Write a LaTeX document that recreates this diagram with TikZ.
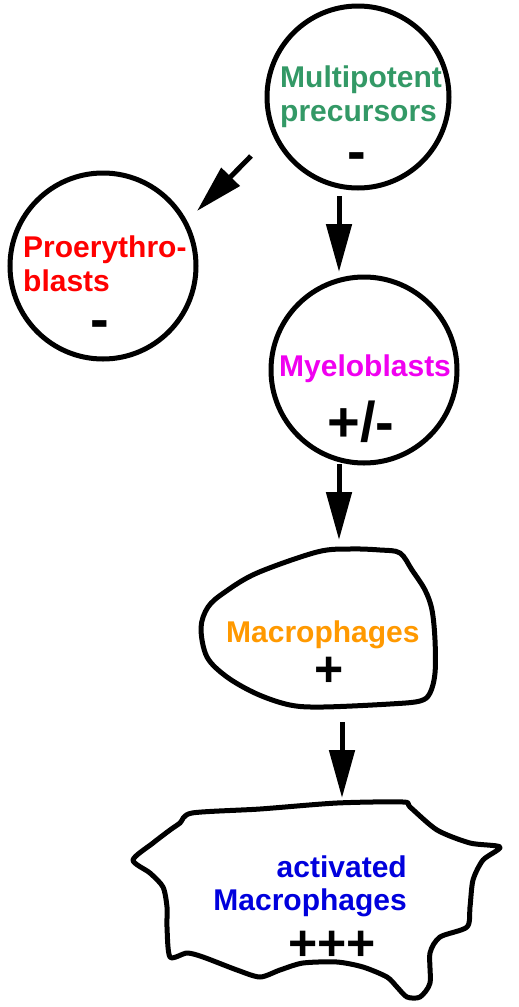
\documentclass[tikz,border=0pt]{standalone}
\usepackage{fontspec}
\setmainfont{Liberation Sans}
\usetikzlibrary{arrows.meta}
\definecolor{cgreen}{RGB}{51,153,102}
\definecolor{cred}{RGB}{255,0,0}
\definecolor{cmag}{RGB}{240,0,240}
\definecolor{corange}{RGB}{255,153,0}
\definecolor{cblue}{RGB}{0,0,221}
\tikzset{
  cell/.style={circle, draw=black, line width=5pt, inner sep=0pt},
  blob/.style={draw=black, line width=5pt, line join=round},
  lbl/.style={font=\bfseries\fontsize{30}{34}\selectfont, inner sep=0pt, anchor=base west},
  lblr/.style={lbl, anchor=base east},
  sym/.style={font=\bfseries\fontsize{56}{60}\selectfont, inner sep=0pt},
  plussym/.style={font=\bfseries\fontsize{50}{54}\selectfont, inner sep=0pt},
  flow/.style={line width=5pt, -{Triangle[length=48pt,width=25pt]}},
}
\begin{document}
\begin{tikzpicture}[x=1pt,y=-1pt]
\useasboundingbox[fill=white] (0,0) rectangle (519,1007);
% cells
\node[cell, minimum size=182pt] (mp) at (358,97) {};
\node[cell, minimum size=186pt] (pe) at (103,266) {};
\node[cell, minimum size=186pt] (my) at (364,370) {};
% macrophage outline
\draw[blob] plot[smooth cycle, tension=0.55] coordinates {
  (257,573) (317,552) (350,549) (380,550) (400,553) (412,570) (425,590)
  (432,610) (435,640) (435,673) (430,693) (420,701) (390,704) (323,707)
  (290,705) (257,694) (227,677) (207,657) (201,628) (208,607) (225,592)};
% activated macrophage outline
\draw[blob] plot[smooth cycle, tension=0.45] coordinates {
  (192,813) (260,809) (337,803) (403,802) (410,807) (437,830) (470,843)
  (500,847) (483,860) (473,880) (470,907) (467,927) (440,937) (430,953)
  (430,983) (420,997) (407,997) (397,987) (387,977) (363,967) (337,962)
  (303,963) (280,970) (260,977) (237,970) (203,957) (187,953) (170,957)
  (167,927) (167,907) (163,887) (150,873) (133,860) (153,843) (170,830)
  (180,823)};
% labels
\node[lbl, text=cgreen] (mp1) at (280,87) {Multipotent};
\node[lbl, text=cgreen] (mp2) at (280,121) {precursors};
\node[sym] (mps) at (357,162) {-};
\node[lbl, text=cred] (pe1) at (23,257) {Proerythro-};
\node[lbl, text=cred] (pe2) at (23,291) {blasts};
\node[sym] (pes) at (100,330) {-};
\node[lbl, text=cmag] (my1) at (279,376) {Myeloblasts};
\node[sym] (mys) at (361,422) {+/-};
\node[lbl, text=corange] (mc1) at (226,642) {Macrophages};
\node[plussym] (mcs) at (329,672) {+};
\node[lblr, text=cblue] (ac1) at (407,877) {activated};
\node[lblr, text=cblue] (ac2) at (407,910) {Macrophages};
\node[plussym] (acs) at (332,946) {+++};
% arrows
\coordinate (a1s) at (251,156); \coordinate (a1e) at (197,211);
\coordinate (a2s) at (339,196); \coordinate (a2e) at (339,272);
\coordinate (a3s) at (339,464); \coordinate (a3e) at (339,540);
\coordinate (a4s) at (342,722); \coordinate (a4e) at (342,798);
\draw[flow] (a1s) -- (a1e);
\draw[flow] (a2s) -- (a2e);
\draw[flow] (a3s) -- (a3e);
\draw[flow] (a4s) -- (a4e);
\end{tikzpicture}
\end{document}
